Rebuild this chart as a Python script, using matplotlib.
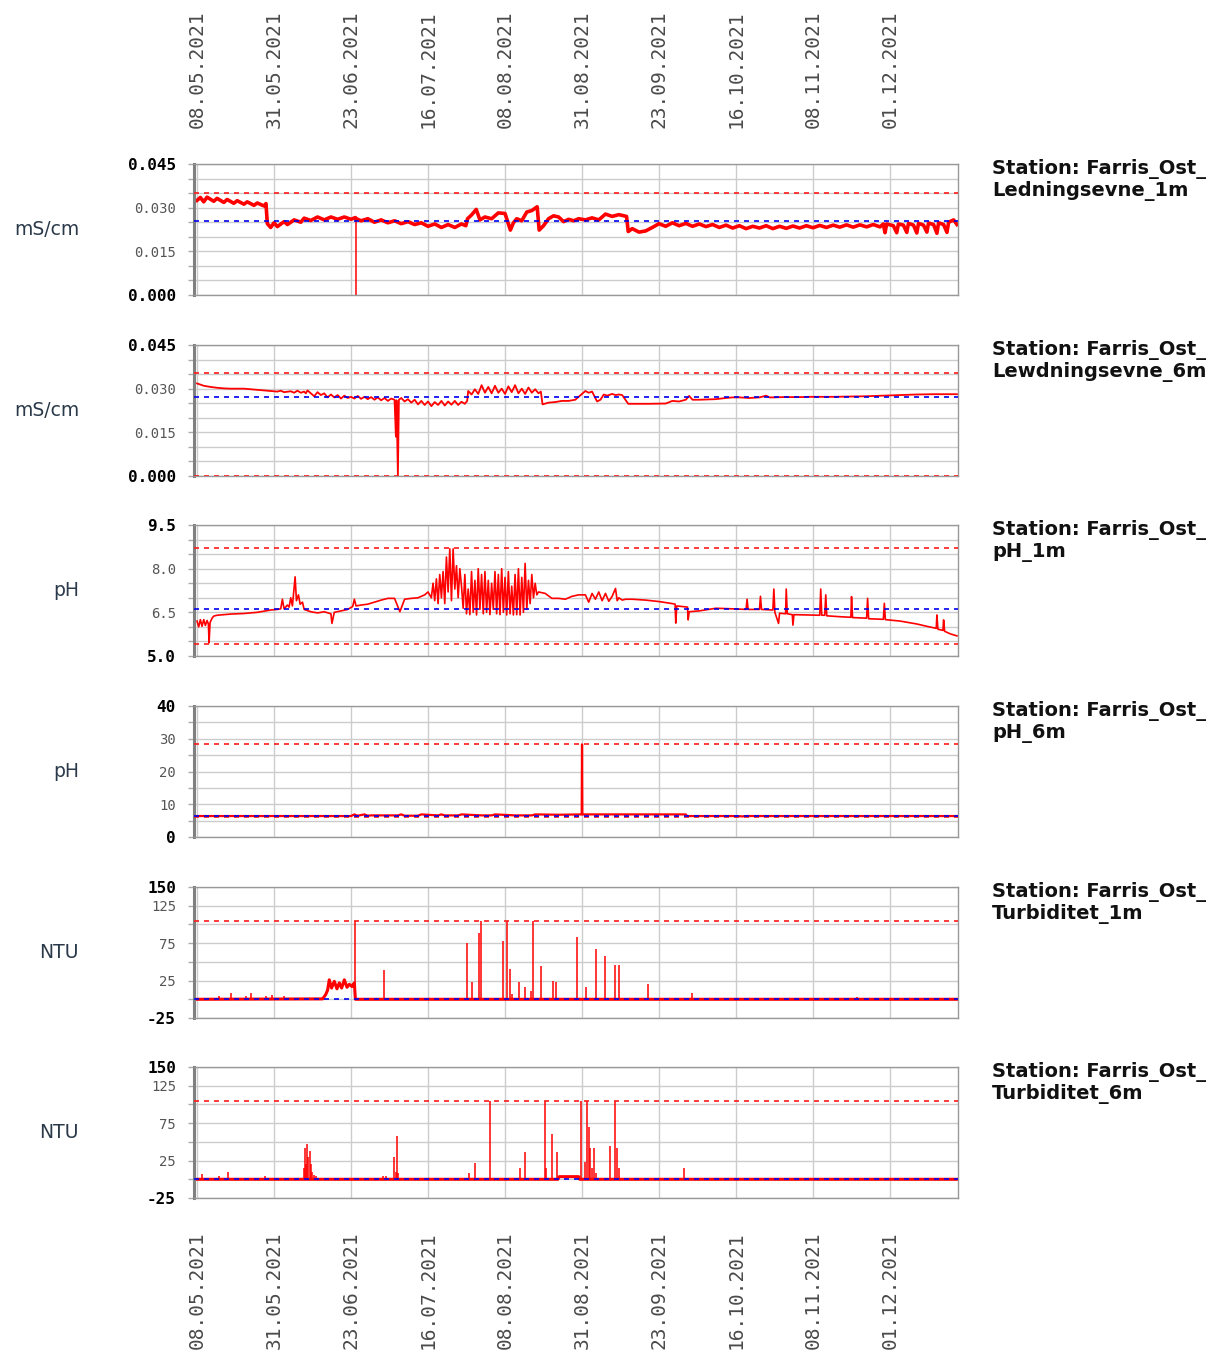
import numpy as np
import matplotlib.pyplot as plt

# time axis: days counted from 08.05.2021, labels every 23 days
date_pos = [0, 23, 46, 69, 92, 115, 138, 161, 184, 207]
date_labels = ['08.05.2021', '31.05.2021', '23.06.2021', '16.07.2021', '08.08.2021',
               '31.08.2021', '23.09.2021', '16.10.2021', '08.11.2021', '01.12.2021']
day_min, day_max = -0.9, 227.3

# Ledningsevne 1m (mS/cm), (day, value)
lev1_points = [
    (0, 0.0325), (1, 0.0335), (2, 0.0320), (3, 0.0336), (5, 0.0322), (6, 0.0332), (8, 0.0318),
    (9, 0.0328), (11, 0.0315), (12, 0.0324), (14, 0.0312), (15, 0.0320), (17, 0.0308),
    (18, 0.0316), (20, 0.0306), (20.6, 0.0314), (21, 0.0245), (22, 0.0232), (23, 0.0248),
    (24, 0.0235), (26, 0.0252), (27, 0.0242), (29, 0.0258), (31, 0.0250), (32, 0.0264),
    (34, 0.0256), (36, 0.0268), (38, 0.0258), (40, 0.0268), (42, 0.0260), (44, 0.0268),
    (46, 0.0260), (47.3, 0.0266), (47.6, 0.0262), (49, 0.0255), (51, 0.0262),
    (53, 0.0250), (55, 0.0258), (57, 0.0248), (59, 0.0255), (61, 0.0245), (63, 0.0252),
    (65, 0.0242), (67, 0.0248), (69, 0.0236), (71, 0.0244), (73, 0.0232), (75, 0.0242),
    (77, 0.0232), (79, 0.0244), (80.3, 0.0238), (80.8, 0.0262), (82, 0.0275), (83.4, 0.0294),
    (84.5, 0.0258), (86, 0.0268), (88, 0.0262), (90, 0.0282), (92, 0.0280), (93.6, 0.0223),
    (94.5, 0.0248), (95.5, 0.0262), (97, 0.0255), (98.5, 0.0285), (100, 0.0290),
    (101.6, 0.0303), (102.2, 0.0223), (103.5, 0.0238), (105, 0.0262), (106.5, 0.0272),
    (108, 0.0268), (109.5, 0.0252), (111, 0.0260), (112.5, 0.0255), (114, 0.0262),
    (116, 0.0258), (118, 0.0265), (120, 0.0258), (122, 0.0278), (124, 0.0270), (126, 0.0276),
    (128.3, 0.0270), (128.8, 0.0218), (130, 0.0228), (132, 0.0216), (134, 0.0220),
    (136, 0.0232), (138, 0.0245), (140, 0.0236), (142, 0.0248), (144, 0.0238), (146, 0.0246),
    (148, 0.0236), (150, 0.0244), (152, 0.0235), (154, 0.0242), (156, 0.0232), (158, 0.0240),
    (160, 0.0230), (162, 0.0238), (164, 0.0228), (166, 0.0236), (168, 0.0230), (170, 0.0238),
    (172, 0.0228), (174, 0.0236), (176, 0.0229), (178, 0.0237), (180, 0.0230), (182, 0.0238),
    (184, 0.0231), (186, 0.0239), (188, 0.0232), (190, 0.0240), (192, 0.0233), (194, 0.0241),
    (196, 0.0233), (198, 0.0241), (200, 0.0234), (202, 0.0242), (204, 0.0234), (205, 0.0244),
    (205.5, 0.0214), (206, 0.0244), (208, 0.0238), (209, 0.0214), (209.5, 0.0244),
    (211, 0.0240), (212, 0.0215), (212.5, 0.0246), (214, 0.0240), (215, 0.0213),
    (215.5, 0.0246), (217, 0.0240), (218, 0.0216), (218.5, 0.0247), (220, 0.0242),
    (221, 0.0212), (221.5, 0.0248), (223, 0.0242), (224, 0.0215), (224.5, 0.0250),
    (226, 0.0258), (227, 0.0242)]
# single reading that dropped to zero on 23.06
lev1_spikes = [(47.4, 0.0264)]

# Lewdningsevne 6m (mS/cm)
lev6_points = [
    (0, 0.0318), (2, 0.0310), (4, 0.0306), (6, 0.0303), (8, 0.0301), (10, 0.0300),
    (12, 0.0300), (14, 0.0300), (16, 0.0298), (18, 0.0296), (20, 0.0294), (22, 0.0292),
    (24, 0.0290), (25, 0.0293), (26, 0.0288), (28, 0.0291), (29, 0.0286), (30, 0.0293),
    (31, 0.0286), (32, 0.0290), (32.5, 0.0284), (33, 0.0294), (34, 0.0284), (35, 0.0274),
    (36, 0.0288), (37, 0.0278), (38, 0.0284), (39, 0.0270), (40, 0.0280), (41, 0.0270),
    (42, 0.0278), (43, 0.0266), (44, 0.0276), (45, 0.0268), (46, 0.0272), (47, 0.0266),
    (48, 0.0275), (49, 0.0265), (50, 0.0272), (51, 0.0264), (52, 0.0271), (53, 0.0262),
    (54, 0.0270), (55, 0.0260), (56, 0.0268), (57, 0.0258), (58, 0.0266), (59, 0.0262),
    (59.4, 0.0135), (59.6, 0.0260), (60, 0.0), (60.3, 0.0262), (61, 0.0268), (62, 0.0256),
    (63, 0.0264), (64, 0.0252), (65, 0.0262), (66, 0.0246), (67, 0.0258), (68, 0.0244),
    (69, 0.0256), (70, 0.0240), (71, 0.0254), (72, 0.0244), (73, 0.0258), (74, 0.0242),
    (75, 0.0256), (76, 0.0245), (77, 0.0258), (78, 0.0244), (79, 0.0255), (80, 0.0248),
    (80.7, 0.0258), (81, 0.0292), (82, 0.0280), (83, 0.0298), (84, 0.0282), (85, 0.0312),
    (86, 0.0286), (87, 0.0306), (88, 0.0284), (89, 0.0310), (90, 0.0286), (91, 0.0300),
    (92, 0.0282), (93, 0.0308), (94, 0.0288), (95, 0.0312), (96, 0.0284), (97, 0.0300),
    (98, 0.0282), (99, 0.0304), (100, 0.0286), (101, 0.0298), (102, 0.0284), (102.7, 0.0290),
    (103.2, 0.0246), (105, 0.0252), (107, 0.0254), (109, 0.0258), (111, 0.0258),
    (113, 0.0262), (115, 0.0282), (116, 0.0292), (117, 0.0286), (118, 0.0290),
    (119.5, 0.0256), (120.5, 0.0262), (121.5, 0.0280), (122.5, 0.0276), (124, 0.0282),
    (125, 0.0278), (126, 0.0280), (127, 0.0278), (128.8, 0.0248), (130, 0.0248),
    (135, 0.0248), (140, 0.0249), (142, 0.0258), (144, 0.0256), (146, 0.0262), (147, 0.0275),
    (148, 0.0262), (150, 0.0262), (155, 0.0264), (158, 0.0268), (160, 0.0270), (162, 0.0270),
    (165, 0.0268), (168, 0.0270), (170, 0.0276), (171, 0.0270), (172, 0.0270), (175, 0.0271),
    (180, 0.0271), (183, 0.0272), (185, 0.0272), (190, 0.0272), (195, 0.0273), (200, 0.0274),
    (205, 0.0276), (210, 0.0278), (215, 0.0280), (220, 0.0281), (227, 0.0281)]

# pH 1m
ph1_points = [
    (0, 6.20), (0.5, 6.00), (1, 6.25), (1.5, 6.02), (2, 6.25), (2.5, 6.05), (3, 6.22),
    (3.4, 6.10), (3.6, 5.45), (3.9, 6.15), (4.5, 6.30), (5, 6.37), (6, 6.40), (8, 6.42),
    (10, 6.44), (12, 6.45), (14, 6.46), (16, 6.48), (18, 6.50), (20, 6.54), (22, 6.58),
    (24, 6.60), (25, 6.62), (25.5, 6.95), (26, 6.62), (27, 6.75), (27.5, 6.68), (28, 7.00),
    (28.5, 6.72), (29.3, 7.72), (29.7, 6.90), (30.3, 7.10), (30.8, 6.78), (31.5, 6.85),
    (32, 6.60), (34, 6.52), (36, 6.48), (38, 6.52), (40, 6.45), (40.3, 6.12), (41, 6.50),
    (43, 6.55), (45, 6.60), (46.5, 6.70), (47, 6.95), (47.5, 6.72), (49, 6.75), (51, 6.78),
    (53, 6.85), (55, 6.92), (57, 6.98), (59, 6.98), (60.6, 6.52), (62, 6.95), (64, 6.98),
    (66, 7.00), (68, 7.10), (69, 7.20), (70, 7.00), (70.5, 7.50), (71, 6.90), (71.5, 7.65),
    (72, 6.80), (72.5, 7.80), (73, 7.00), (73.5, 7.90), (74, 6.80), (74.5, 8.40), (75, 7.20),
    (75.5, 8.68), (76, 6.90), (76.5, 8.68), (77, 7.30), (77.5, 8.10), (78, 7.00), (78.5, 8.00),
    (79, 7.40), (79.5, 6.64), (80, 7.80), (80.5, 6.45), (81, 7.30), (81.5, 6.42), (82, 7.90),
    (82.5, 6.50), (83, 7.60), (83.5, 6.41), (84, 8.00), (84.5, 6.60), (85, 7.80), (85.5, 6.45),
    (86, 7.90), (86.5, 6.50), (87, 7.60), (87.5, 6.42), (88, 7.50), (88.5, 6.60), (89, 7.90),
    (89.5, 6.45), (90, 7.80), (90.5, 6.42), (91, 8.00), (91.5, 6.50), (92, 7.70), (92.5, 6.41),
    (93, 7.90), (93.5, 6.45), (94, 7.40), (94.5, 6.41), (95, 7.80), (95.5, 6.42), (96, 8.00),
    (96.5, 6.41), (97, 7.70), (97.5, 6.50), (98, 8.18), (98.5, 6.60), (99, 7.60), (99.5, 6.80),
    (100, 7.80), (100.5, 7.00), (101, 7.50), (101.5, 7.10), (102, 7.20), (104, 7.15),
    (106, 6.98), (108, 6.98), (110, 6.95), (112, 7.05), (114, 7.10), (116, 7.10), (117, 6.85),
    (118, 7.15), (119, 6.95), (120, 7.20), (121, 6.90), (122, 7.15), (123, 6.88), (124, 7.05),
    (125, 7.32), (125.5, 6.90), (126, 7.00), (127, 6.92), (128, 6.95), (130, 6.95),
    (134, 6.92), (138, 6.87), (142, 6.80), (142.8, 6.78), (143, 6.13), (143.3, 6.72),
    (145, 6.70), (146.5, 6.68), (146.7, 6.24), (147, 6.52), (150, 6.55), (155, 6.64),
    (160, 6.62), (164, 6.60), (164.3, 6.95), (164.6, 6.60), (168, 6.60), (168.3, 7.05),
    (168.6, 6.60), (172, 6.58), (172.3, 7.30), (172.6, 6.50), (173.7, 6.12), (174, 6.47),
    (175.8, 6.45), (176, 7.30), (176.3, 6.45), (177.8, 6.42), (178, 6.06), (178.3, 6.42),
    (182, 6.41), (186, 6.40), (186.3, 7.30), (186.6, 6.40), (187.5, 6.40), (187.8, 7.10),
    (188.1, 6.38), (192, 6.35), (195.3, 6.33), (195.5, 7.04), (195.8, 6.32), (200, 6.30),
    (200.3, 6.98), (200.6, 6.28), (205, 6.26), (205.3, 6.81), (205.6, 6.25), (210, 6.20),
    (215, 6.10), (218, 6.02), (220.8, 5.95), (221, 6.41), (221.3, 5.92), (222.8, 5.88),
    (223, 6.24), (223.3, 5.85), (225, 5.76), (227, 5.69)]

# pH 6m
ph6_points = [
    (0, 6.4), (20, 6.4), (40, 6.4), (46, 6.4), (47, 6.9), (48, 6.5), (50, 6.9), (51, 6.5),
    (52, 6.6), (60, 6.6), (61, 6.9), (62, 6.5), (66, 6.5), (67, 6.9), (72, 6.6), (73, 6.9),
    (74, 6.6), (78, 6.6), (79, 6.9), (85, 6.6), (88, 6.6), (89, 6.9), (95, 6.6), (100, 6.6),
    (101, 6.9), (108, 6.8), (114.9, 6.9), (115, 28.3), (115.1, 6.9), (120, 6.9), (130, 6.9),
    (140, 6.9), (146, 6.9), (146.4, 6.4), (160, 6.4), (163, 6.3), (164, 6.4), (190, 6.4),
    (227, 6.4)]

# Turbiditet 1m (NTU): slow-moving level plus short spikes
tur1_points = [
    (0, 0), (37.5, 0.5), (38.4, 6), (39.0, 12), (39.5, 26), (40.2, 15), (41, 24), (41.8, 14),
    (42.5, 22), (43.2, 15), (44, 26), (44.8, 16), (45.5, 20), (46.3, 17), (47.0, 22),
    (47.3, 0), (227, 0)]
tur1_spikes = [
    (6.5, 4), (10.3, 8), (14.7, 4), (16.2, 9), (20.7, 4), (22.4, 6), (25.9, 5), (47.2, 105),
    (56.0, 39), (62.9, 2), (75.4, 2), (80.5, 75), (82.2, 23), (84.3, 88), (84.9, 105),
    (91.3, 78), (92.7, 105), (93.6, 41), (94.2, 7), (96.1, 23), (98.0, 16), (99.9, 11),
    (100.5, 105), (102.7, 44), (106.4, 25), (107.3, 23), (113.6, 83), (116.2, 17),
    (119.2, 67), (122.0, 58), (124.8, 46), (126.1, 46), (134.8, 20), (147.9, 8), (197.0, 3)]

# Turbiditet 6m (NTU)
tur6_points = [(0, 0), (107.8, 0), (108.2, 3.5), (114, 3.5), (114.3, 0), (227, 0)]
tur6_spikes = [
    (1.4, 7), (6.5, 4), (9.3, 10), (20.3, 4), (32.1, 15), (32.4, 42), (32.7, 20), (33.0, 47),
    (33.3, 30), (33.6, 38), (33.9, 21), (34.3, 10), (34.8, 6), (35.5, 4), (55.5, 4),
    (56.5, 4), (58.9, 30), (59.3, 10), (59.7, 58), (60.0, 8), (81.1, 9), (83.0, 22),
    (87.4, 105), (96.5, 15), (98.0, 36), (103.9, 105), (104.3, 15), (106.0, 61), (107.5, 36),
    (114.7, 105), (115.8, 23), (116.4, 105), (117.0, 70), (117.5, 42), (118.0, 15),
    (118.5, 42), (119.2, 8), (123.4, 45), (124.8, 105), (125.4, 42), (126.0, 15),
    (145.5, 15)]

# reference levels per series: red dashed, blue dashed
lev1_red, lev1_blue = [0.035], [0.0255]
lev6_red, lev6_blue = [0.0355, 0.0], [0.027]
ph1_red, ph1_blue = [8.7, 5.4], [6.6]
ph6_red, ph6_blue = [28.3, 6.0], [6.3]
tur1_red, tur1_blue = [105], [0.8]
tur6_red, tur6_blue = [105], [0.8]

W, H = 1212, 1351
fig = plt.figure(figsize=(W / 100, H / 100), dpi=100)


def px_rect(x0, y0, x1, y1):
    return [x0 / W, 1 - y1 / H, (x1 - x0) / W, (y1 - y0) / H]


cond_grid = np.linspace(0, 0.045, 10)
cond_lab = {0.045: '0.045', 0.03: '0.030', 0.015: '0.015', 0.0: '0.000'}
ntu_grid = np.linspace(-25, 150, 8)
ntu_lab = {150: '150', 125: '125', 75: '75', 25: '25', -25: '-25'}

# points, spikes, red levels, blue levels, unit, name, grid, tick labels, line width
panels = [
    (lev1_points, lev1_spikes, lev1_red, lev1_blue, 'mS/cm', 'Ledningsevne_1m',
     cond_grid, cond_lab, 2.6),
    (lev6_points, [], lev6_red, lev6_blue, 'mS/cm', 'Lewdningsevne_6m',
     cond_grid, cond_lab, 1.3),
    (ph1_points, [], ph1_red, ph1_blue, 'pH', 'pH_1m',
     np.linspace(5.0, 9.5, 10), {9.5: '9.5', 8.0: '8.0', 6.5: '6.5', 5.0: '5.0'}, 1.2),
    (ph6_points, [], ph6_red, ph6_blue, 'pH', 'pH_6m',
     np.linspace(0, 40, 9), {40: '40', 30: '30', 20: '20', 10: '10', 0: '0'}, 1.6),
    (tur1_points, tur1_spikes, tur1_red, tur1_blue, 'NTU', 'Turbiditet_1m',
     ntu_grid, ntu_lab, 2.2),
    (tur6_points, tur6_spikes, tur6_red, tur6_blue, 'NTU', 'Turbiditet_6m',
     ntu_grid, ntu_lab, 2.2),
]

panel_tops = [164, 345, 525, 706, 887, 1067]
panel_h = 131
x_left, x_right = 194, 958

for i, (points, spikes, reds, blues, unit, name, grid, labels, lw) in enumerate(panels):
    top = panel_tops[i]
    ax = fig.add_axes(px_rect(x_left, top, x_right, top + panel_h))
    days, vals = zip(*points)
    ax.plot(days, vals, color='#ff0000', lw=lw, zorder=2)
    if spikes:
        sd, sv = zip(*spikes)
        ax.vlines(sd, 0, sv, color='#ff0000', lw=1.1, zorder=2)
    for v in reds:
        ax.axhline(v, color='#ff1a1a', lw=1.2, ls=(0, (3, 3)), zorder=3)
    for v in blues:
        ax.axhline(v, color='#0000ee', lw=1.2, ls=(0, (3, 3)), zorder=3)

    ax.set_xlim(day_min, day_max)
    ax.set_ylim(grid[0], grid[-1])
    ax.set_xticks(date_pos)
    ax.set_yticks(grid)
    ytl = []
    for g in grid:
        key = [k for k in labels if abs(k - g) < 1e-9]
        ytl.append(labels[key[0]] if key else '')
    ax.set_yticklabels(ytl)
    for j, t in enumerate(ax.get_yticklabels()):
        t.set_fontfamily('DejaVu Sans Mono')
        if j == 0 or j == len(grid) - 1:
            t.set_fontweight('bold')
            t.set_fontsize(11.5)
            t.set_color('black')
        else:
            t.set_fontsize(10)
            t.set_color('#555555')
    ax.tick_params(axis='y', length=4, width=1, color='#aaaaaa', pad=9)
    ax.grid(True, color='#cccccc', lw=1, zorder=0)
    ax.set_axisbelow(True)

    for s in ['top', 'right', 'bottom']:
        ax.spines[s].set_color('#999999')
        ax.spines[s].set_linewidth(1)
    ax.spines['left'].set_color('#808080')
    ax.spines['left'].set_linewidth(2.2)

    # date labels only above the first and below the last panel
    if i == 0:
        ax.xaxis.tick_top()
        ax.tick_params(axis='x', length=0, pad=26, labeltop=True, labelbottom=False)
        ax.set_xticklabels(date_labels, rotation=90, fontfamily='DejaVu Sans Mono',
                           fontsize=14, color='#4a4a4a')
    elif i == len(panels) - 1:
        ax.tick_params(axis='x', length=0, pad=24, labelbottom=True)
        ax.set_xticklabels(date_labels, rotation=90, fontfamily='DejaVu Sans Mono',
                           fontsize=14, color='#4a4a4a')
    else:
        ax.tick_params(axis='x', length=0, labelbottom=False)

    fig.text(79 / W, 1 - (top + panel_h / 2) / H, unit, ha='right', va='center',
             fontsize=13.5, color='#2b3a4a')
    fig.text(992 / W, 1 - (top - 5) / H, 'Station: Farris_Ost_\n' + name,
             ha='left', va='top', fontsize=14, fontweight='bold', color='#111111',
             linespacing=1.15)

fig.savefig('out.png', dpi=100)
